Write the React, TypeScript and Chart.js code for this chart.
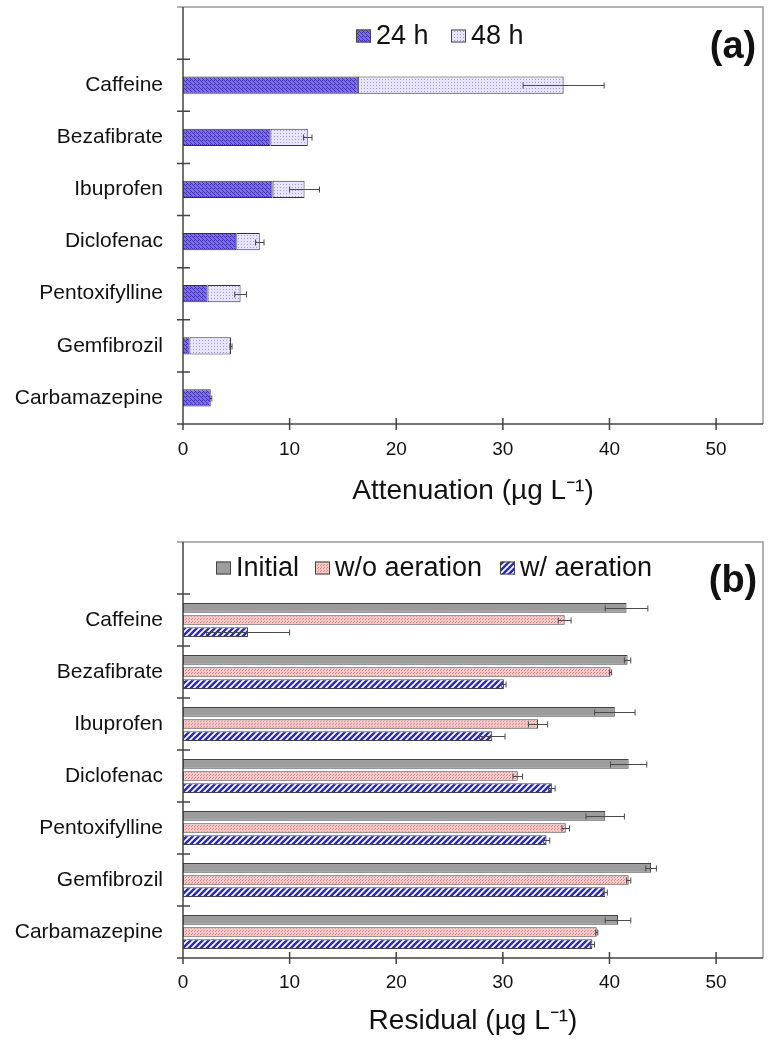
import React, { useEffect, useRef } from 'react';
import { Chart, registerables } from 'chart.js';
Chart.register(...registerables);

// ---------- data ----------
const categories = ['', 'Caffeine', 'Bezafibrate', 'Ibuprofen', 'Diclofenac', 'Pentoxifylline', 'Gemfibrozil', 'Carbamazepine'];
const xTickValues = [0, 10, 20, 30, 40, 50];

// panel (a): attenuation, stacked
const att24h = [null, 16.4, 8.2, 8.4, 5.0, 2.3, 0.6, 2.6];
const att48h = [null, 19.3, 3.5, 3.0, 2.2, 3.1, 3.9, 0.0];
const att48hErr = [null, 3.8, 0.4, 1.4, 0.4, 0.55, 0.1, 0.1];

// panel (b): residual, grouped
const resInitial = [null, 41.6, 41.7, 40.5, 41.8, 39.6, 43.9, 40.8];
const resInitialErr = [null, 2.0, 0.3, 1.9, 1.7, 1.8, 0.5, 1.2];
const resWoAeration = [null, 35.8, 40.1, 33.3, 31.4, 35.9, 41.8, 38.8];
const resWoAerationErr = [null, 0.6, 0.1, 0.9, 0.45, 0.35, 0.2, 0.1];
const resWAeration = [null, 6.1, 30.1, 29.0, 34.6, 34.1, 39.6, 38.4];
const resWAerationErr = [null, 3.9, 0.2, 1.2, 0.3, 0.3, 0.2, 0.2];

const SANS = "'Liberation Sans', Arial, sans-serif";

function makePattern(ctx: CanvasRenderingContext2D, size: number, draw: (g: CanvasRenderingContext2D, s: number) => void) {
  const c = document.createElement('canvas');
  c.width = size;
  c.height = size;
  const g = c.getContext('2d') as CanvasRenderingContext2D;
  draw(g, size);
  return ctx.createPattern(c, 'repeat') as CanvasPattern;
}

const decor = {
  id: 'decor',
  afterDatasetsDraw(chart: any) {
    const ctx = chart.ctx;
    const xs = chart.scales.x;
    ctx.save();
    ctx.strokeStyle = '#4a4a4a';
    ctx.lineWidth = 1;
    chart.data.datasets.forEach((ds: any, di: number) => {
      const errs = ds.errorBars;
      if (!errs) return;
      const meta = chart.getDatasetMeta(di);
      meta.data.forEach((el: any, i: number) => {
        const e = errs[i];
        if (e == null || ds.data[i] == null) return;
        const v = xs.getValueForPixel(el.x);
        const x1 = xs.getPixelForValue(v - e);
        const x2 = xs.getPixelForValue(v + e);
        const y = Math.round(el.y) + 0.5;
        ctx.beginPath();
        ctx.moveTo(x1, y);
        ctx.lineTo(x2, y);
        ctx.moveTo(x1, y - 3);
        ctx.lineTo(x1, y + 3);
        ctx.moveTo(x2, y - 3);
        ctx.lineTo(x2, y + 3);
        ctx.stroke();
      });
    });
    ctx.restore();
  },
  afterDraw(chart: any, _args: any, o: any) {
    const { ctx, chartArea: ca } = chart;
    const xs = chart.scales.x;
    const ys = chart.scales.y;
    ctx.save();
    // frame
    ctx.strokeStyle = '#9a9a9a';
    ctx.lineWidth = 1.5;
    ctx.beginPath();
    ctx.moveTo(ca.left - 6, ca.top);
    ctx.lineTo(ca.right, ca.top);
    ctx.lineTo(ca.right, ca.bottom);
    ctx.stroke();
    // axes + ticks
    ctx.strokeStyle = '#444';
    ctx.lineWidth = 1.5;
    ctx.beginPath();
    ctx.moveTo(ca.left, ca.top);
    ctx.lineTo(ca.left, ca.bottom + 6);
    ctx.moveTo(ca.left - 6, ca.bottom);
    ctx.lineTo(ca.right, ca.bottom);
    const n = ys.ticks.length;
    for (let i = 1; i < n; i++) {
      const y = (ys.getPixelForValue(i - 1) + ys.getPixelForValue(i)) / 2;
      ctx.moveTo(ca.left - 6, y);
      ctx.lineTo(ca.left + 7, y);
    }
    xs.ticks.forEach((t: any) => {
      if (t.value === 0) return;
      const x = xs.getPixelForValue(t.value);
      ctx.moveTo(x, ca.bottom - 6);
      ctx.lineTo(x, ca.bottom + 6);
    });
    ctx.stroke();
    // legend (inside plot)
    ctx.font = `${o.legendSize}px ${SANS}`;
    ctx.textAlign = 'left';
    ctx.textBaseline = 'middle';
    chart.data.datasets.forEach((ds: any, i: number) => {
      const bx = o.legendX[i];
      const [bw, bh] = o.box;
      const by = o.legendY - bh / 2;
      ctx.fillStyle = ds.backgroundColor;
      ctx.fillRect(bx, by, bw, bh);
      ctx.strokeStyle = '#444';
      ctx.lineWidth = 1;
      ctx.strokeRect(bx + 0.5, by + 0.5, bw - 1, bh - 1);
      ctx.fillStyle = '#111';
      ctx.fillText(ds.label, bx + bw + 5, o.legendY + 1);
    });
    // panel letter
    ctx.font = `bold 38px ${SANS}`;
    ctx.textAlign = 'center';
    ctx.fillStyle = '#111';
    ctx.fillText(o.panel, o.panelX, o.panelY);
    ctx.restore();
  },
};

function xScaleCfg(title: string, h: number, tickPad: number, titlePad: number, stacked: boolean) {
  return {
    type: 'linear',
    min: 0,
    max: 54.4,
    stacked,
    afterBuildTicks: (s: any) => {
      s.ticks = xTickValues.map((v) => ({ value: v }));
    },
    afterFit: (s: any) => {
      s.height = h;
      s.paddingLeft = 0;
      s.paddingRight = 0;
    },
    grid: { display: false, drawTicks: false },
    border: { display: false },
    ticks: { font: { family: SANS, size: 19 }, color: '#111', padding: tickPad },
    title: { display: true, text: title, font: { family: SANS, size: 28 }, color: '#111', padding: { top: 0, bottom: titlePad } },
  };
}

function yScaleCfg(stacked: boolean) {
  return {
    type: 'category',
    stacked,
    afterFit: (s: any) => {
      s.width = 183;
      s.paddingTop = 0;
      s.paddingBottom = 0;
    },
    grid: { display: false, drawTicks: false },
    border: { display: false },
    ticks: {
      autoSkip: false,
      font: { family: SANS, size: 21 },
      color: '#111',
      padding: 20,
    },
  };
}

function buildTop(ctx: CanvasRenderingContext2D) {
  const p24 = makePattern(ctx, 4, (g, s) => {
    g.fillStyle = '#7b6cf0';
    g.fillRect(0, 0, s, s);
    g.fillStyle = '#4233b2';
    for (let i = 0; i < s; i++) g.fillRect(i, i, 1, 1);
    g.fillRect(2, 0, 1, 1);
  });
  const p48 = makePattern(ctx, 3, (g, s) => {
    g.fillStyle = '#e7e4fc';
    g.fillRect(0, 0, s, s);
    g.fillStyle = '#a49ae0';
    g.fillRect(1, 1, 1, 1);
  });
  return {
    type: 'bar',
    data: {
      labels: categories,
      datasets: [
        { label: '24 h', data: att24h, backgroundColor: p24, borderColor: '#333', borderWidth: 1, borderSkipped: false, categoryPercentage: 0.33, barPercentage: 1 },
        { label: '48 h', data: att48h, errorBars: att48hErr, backgroundColor: p48, borderColor: '#333', borderWidth: 1, borderSkipped: false, categoryPercentage: 0.33, barPercentage: 1 },
      ],
    },
    options: {
      indexAxis: 'y',
      responsive: false,
      animation: false,
      events: [],
      layout: { padding: { top: 7, right: 8, left: 0, bottom: 0 } },
      plugins: {
        legend: { display: false },
        tooltip: { enabled: false },
        decor: { legendY: 36, legendX: [356, 451], box: [15, 13], legendSize: 27, panel: '(a)', panelX: 733, panelY: 48 },
      },
      scales: {
        x: xScaleCfg('Attenuation (µg L⁻¹)', 101, 14, 17, true),
        y: yScaleCfg(true),
      },
    },
    plugins: [decor],
  };
}

function buildBottom(ctx: CanvasRenderingContext2D) {
  const pPink = makePattern(ctx, 3, (g, s) => {
    g.fillStyle = '#f6c8c8';
    g.fillRect(0, 0, s, s);
    g.fillStyle = '#d98585';
    g.fillRect(0, 0, 1, 1);
    g.fillRect(2, 1, 1, 1);
  });
  const pStripe = makePattern(ctx, 6, (g, s) => {
    g.fillStyle = '#ffffff';
    g.fillRect(0, 0, s, s);
    g.strokeStyle = '#2525d2';
    g.lineWidth = 2.4;
    g.beginPath();
    g.moveTo(0, s);
    g.lineTo(s, 0);
    g.moveTo(-s / 2, s / 2);
    g.lineTo(s / 2, -s / 2);
    g.moveTo(s / 2, s * 1.5);
    g.lineTo(s * 1.5, s / 2);
    g.stroke();
  });
  const common = { borderColor: '#444', borderWidth: 1, borderSkipped: false, categoryPercentage: 0.7, barPercentage: 0.8 };
  return {
    type: 'bar',
    data: {
      labels: categories,
      datasets: [
        { label: 'Initial', data: resInitial, errorBars: resInitialErr, backgroundColor: '#9d9d9d', ...common },
        { label: 'w/o aeration', data: resWoAeration, errorBars: resWoAerationErr, backgroundColor: pPink, ...common },
        { label: 'w/ aeration', data: resWAeration, errorBars: resWAerationErr, backgroundColor: pStripe, ...common },
      ],
    },
    options: {
      indexAxis: 'y',
      responsive: false,
      animation: false,
      events: [],
      layout: { padding: { top: 17, right: 8, left: 0, bottom: 0 } },
      plugins: {
        legend: { display: false },
        tooltip: { enabled: false },
        decor: { legendY: 43, legendX: [216, 315, 500], box: [15, 13], legendSize: 27, panel: '(b)', panelX: 733, panelY: 57 },
      },
      scales: {
        x: xScaleCfg('Residual (µg L⁻¹)', 92, 13, 12, false),
        y: yScaleCfg(false),
      },
    },
    plugins: [decor],
  };
}

function Panel({ build }: { build: (ctx: CanvasRenderingContext2D) => any }) {
  const ref = useRef<HTMLCanvasElement | null>(null);
  useEffect(() => {
    const canvas = ref.current as HTMLCanvasElement;
    const ctx = canvas.getContext('2d') as CanvasRenderingContext2D;
    const chart = new Chart(canvas, build(ctx));
    return () => chart.destroy();
  }, []);
  return <canvas ref={ref} width={771} height={525} style={{ display: 'block', width: 771, height: 525 }} />;
}

export default function App() {
  return (
    <div style={{ position: 'absolute', left: 0, top: 0, width: 771, height: 1050, background: '#fff' }}>
      <Panel build={buildTop} />
      <Panel build={buildBottom} />
    </div>
  );
}
